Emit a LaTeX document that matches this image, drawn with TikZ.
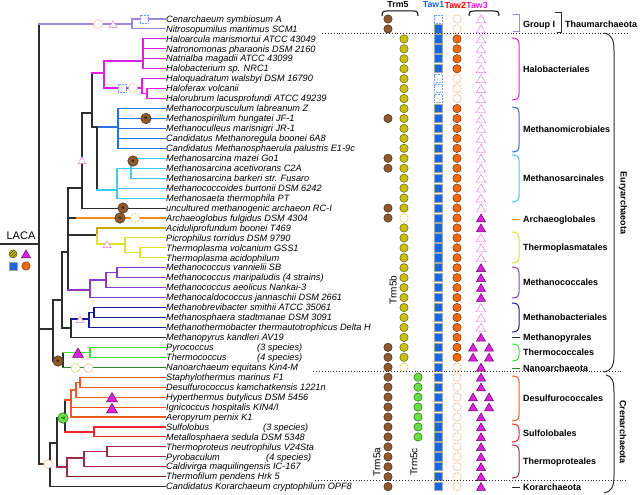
\documentclass[tikz,border=0pt]{standalone}
\usepackage{fontspec}
\setmainfont{Liberation Sans}
\usetikzlibrary{positioning,shapes.geometric,patterns}

\definecolor{back}{HTML}{2E2E2E}
\definecolor{thaum}{HTML}{9A88E0}
\definecolor{halo}{HTML}{E020E0}
\definecolor{mmic}{HTML}{2A70E0}
\definecolor{msar}{HTML}{40C8F0}
\definecolor{aglob}{HTML}{F08C20}
\definecolor{acid}{HTML}{C8AA00}
\definecolor{tplas}{HTML}{E0E030}
\definecolor{mcoc}{HTML}{8A3CC8}
\definecolor{mbac}{HTML}{1A1A90}
\definecolor{tcoc}{HTML}{40E030}
\definecolor{nano}{HTML}{2A8A2A}
\definecolor{desul}{HTML}{F05A1E}
\definecolor{sulf}{HTML}{F02828}
\definecolor{tprot}{HTML}{A02848}
\definecolor{tfil}{HTML}{7A2020}
\definecolor{trmA}{HTML}{8C5A2E}
\definecolor{trmB}{HTML}{C8C010}
\definecolor{trmC}{HTML}{66E040}
\definecolor{tawA}{HTML}{1A66E6}
\definecolor{tawB}{HTML}{F26A10}
\definecolor{tawC}{HTML}{E01EE0}

\begin{document}
\begin{tikzpicture}[x=1pt,y=-1pt,
  tree/.style={line width=1.1pt,line cap=rect},
  leaf/.style={anchor=base west,inner sep=0pt,font=\fontsize{9.2}{10}\selectfont\itshape},
  order/.style={anchor=base west,inner sep=0pt,font=\fontsize{9}{10}\selectfont\bfseries},
  head/.style={inner sep=0pt,font=\fontsize{8.8}{9}\selectfont\bfseries},
  rot/.style={inner sep=0pt,rotate=90,font=\fontsize{10}{11}\selectfont},
  lost/.style={dash pattern=on 0.8pt off 0.7pt,line width=0.7pt},
  cdot/.style={circle,inner sep=0pt,minimum size=8.4pt,line width=0.5pt},
  trma/.style={cdot,fill=trmA,draw=trmA!50!black},
  trmb/.style={cdot,fill=trmB,draw=trmB!50!black},
  trmbx/.style={cdot,lost,draw=trmB!85},
  trmc/.style={cdot,fill=trmC,draw=trmC!45!black},
  tawb/.style={cdot,fill=tawB,draw=tawB!45!black},
  tawbx/.style={cdot,lost,draw=tawB!60},
  sqbox/.style={rectangle,inner sep=0pt,minimum width=8pt,minimum height=8.2pt,line width=0.8pt},
  tawa/.style={sqbox,fill=tawA,draw=black!35},
  tawax/.style={sqbox,lost,draw=tawA!65},
  tri/.style={regular polygon,regular polygon sides=3,inner sep=0pt,minimum size=10.5pt,yshift=-1.2pt,line width=0.5pt},
  tawc/.style={tri,fill=tawC,draw=tawC!40!black},
  tawcx/.style={tri,lost,draw=tawC!70},
  hmark/.style={circle,inner sep=0pt,minimum size=10.5pt,fill=trmA,draw=trmA!50!black,line width=0.5pt,font=\fontsize{3.5}{4}\selectfont\bfseries},
  big/.style={tri,minimum size=12.5pt,fill=tawC,draw=tawC!40!black},
  dotline/.style={dotted,line width=0.9pt,black!85},
  brace/.style={line width=1pt}]
\useasboundingbox (0,0) rectangle (640,495);

% leaves
\foreach \t [count=\i] in {Cenarchaeum symbiosum A, Nitrosopumilus maritimus SCM1,
  Haloarcula marismortui ATCC 43049, Natronomonas pharaonis DSM 2160,
  Natrialba magadii ATCC 43099, Halobacterium sp. NRC1,
  Haloquadratum walsbyi DSM 16790, Haloferax volcanii,
  Halorubrum lacusprofundi ATCC 49239, Methanocorpusculum labreanum Z,
  Methanospirillum hungatei JF-1, Methanoculleus marisnigri JR-1,
  Candidatus Methanoregula boonei 6A8, Candidatus Methanosphaerula palustris E1-9c,
  Methanosarcina mazei Go1, Methanosarcina acetivorans C2A,
  Methanosarcina barkeri str. Fusaro, Methanococcoides burtonii DSM 6242,
  Methanosaeta thermophila PT, uncultured methanogenic archaeon RC-I,
  Archaeoglobus fulgidus DSM 4304, Aciduliprofundum boonei T469,
  Picrophilus torridus DSM 9790, Thermoplasma volcanium GSS1,
  Thermoplasma acidophilum, Methanococcus vannielii SB,
  Methanococcus maripaludis (4 strains), Methanococcus aeolicus Nankai-3,
  Methanocaldococcus jannaschii DSM 2661, Methanobrevibacter smithii ATCC 35061,
  Methanosphaera stadtmanae DSM 3091, Methanothermobacter thermautotrophicus Delta H,
  Methanopyrus kandleri AV19, Pyrococcus, Thermococcus,
  Nanoarchaeum equitans Kin4-M, Staphylothermus marinus F1,
  Desulfurococcus kamchatkensis 1221n, Hyperthermus butylicus DSM 5456,
  Ignicoccus hospitalis KIN4/I, Aeropyrum pernix K1, Sulfolobus,
  Metallosphaera sedula DSM 5348, Thermoproteus neutrophilus V24Sta,
  Pyrobaculum, Caldivirga maquilingensis IC-167, Thermofilum pendens Hrk 5,
  Candidatus Korarchaeum cryptophilum OPF8}{
  \coordinate (l\i) at (165,{19+(\i-1)*9.95});
  \node[leaf] (t\i) at (166,{22.2+(\i-1)*9.95}) {\t};
}
\node[leaf] (s34) at (257,350.5) {(3 species)};
\node[leaf] (s35) at (257,360.5) {(4 species)};
\node[leaf] (s42) at (263,430.2) {(3 species)};
\node[leaf] (s45) at (266,460) {(4 species)};

% inner nodes
\coordinate (nR) at (39,244);
\coordinate (nT) at (132,24);
\coordinate (nE0) at (53,329);
\coordinate (nE1) at (62,300);
\coordinate (nE2) at (68,252);
\coordinate (nX82) at (82,188);
\coordinate (nX92) at (92,113);
\coordinate (nX97) at (97,127);
\coordinate (nHalo) at (104,73);
\coordinate (nHa1) at (143,61);
\coordinate (nHa2) at (142,88);
\coordinate (nHa3) at (147,93.6);
\coordinate (nMM) at (118,127);
\coordinate (nMS) at (117,190);
\coordinate (nMS1) at (131,168.25);
\coordinate (aAg) at (77,218);
\coordinate (nTP) at (97,235);
\coordinate (nTP2) at (125,244);
\coordinate (nTP3) at (140,252.8);
\coordinate (nMC) at (90,290);
\coordinate (nMC1) at (106,280);
\coordinate (nMC2) at (117,272.7);
\coordinate (nMP) at (71,328);
\coordinate (nMB) at (89,319);
\coordinate (nMB1) at (94,312.5);
\coordinate (nTN) at (63,361);
\coordinate (nTC) at (90,352.3);
\coordinate (nCK) at (50,464);
\coordinate (nC0) at (57,443);
\coordinate (nC1) at (65,418);
\coordinate (nD) at (71,400);
\coordinate (nD1) at (76,390);
\coordinate (nD2) at (80,382.2);
\coordinate (nSu) at (94,432);
\coordinate (nTh) at (67,467);
\coordinate (nTh1) at (84,458);
\coordinate (nTh2) at (107,451.8);

% branches: parent/child/vertical colour/horizontal colour
\foreach \p/\c/\v/\h in {
  nR/nT/back/thaum, nR/nE0/back/back, nR/nCK/back/back,
  nT/l1/thaum/thaum, nT/l2/thaum/thaum,
  nE0/nE1/back/back, nE0/nTN/back/back,
  nE1/nE2/back/back, nE1/nMP/back/back,
  nE2/nX82/back/back, nE2/aAg/back/back, nE2/nTP/back/back, nE2/nMC/back/mcoc,
  nX82/nX92/back/back, nX82/l20/back/back,
  nX92/nHalo/back/halo, nX92/nX97/back/back,
  nX97/nMM/back/mmic, nX97/nMS/back/msar,
  nHalo/nHa1/halo/halo, nHalo/nHa2/halo/halo,
  nHa1/l3/halo/halo, nHa1/l4/halo/halo, nHa1/l5/halo/halo, nHa1/l6/halo/halo,
  nHa2/l7/halo/halo, nHa2/nHa3/halo/halo, nHa3/l8/halo/halo, nHa3/l9/halo/halo,
  nMM/l10/mmic/mmic, nMM/l11/mmic/mmic, nMM/l12/mmic/mmic, nMM/l13/mmic/mmic, nMM/l14/mmic/mmic,
  nMS/nMS1/msar/msar, nMS/l18/msar/msar, nMS/l19/msar/msar,
  nMS1/l15/msar/msar, nMS1/l16/msar/msar, nMS1/l17/msar/msar,
  aAg/l21/aglob/aglob,
  nTP/l22/acid/acid, nTP/nTP2/tplas/tplas, nTP2/l23/tplas/tplas, nTP2/nTP3/tplas/tplas,
  nTP3/l24/tplas/tplas, nTP3/l25/tplas/tplas,
  nMC/nMC1/mcoc/mcoc, nMC/l29/mcoc/mcoc, nMC1/nMC2/mcoc/mcoc, nMC1/l28/mcoc/mcoc,
  nMC2/l26/mcoc/mcoc, nMC2/l27/mcoc/mcoc,
  nMP/nMB/back/mbac, nMP/l33/back/back,
  nMB/nMB1/mbac/mbac, nMB/l32/mbac/mbac, nMB1/l30/mbac/mbac, nMB1/l31/mbac/mbac,
  nTN/nTC/back/tcoc, nTN/l36/back/nano, nTC/l34/tcoc/tcoc, nTC/l35/tcoc/tcoc,
  nCK/nC0/back/back, nCK/l48/back/back,
  nC0/nC1/back/back, nC0/nTh/back/tprot,
  nC1/nD/back/desul, nC1/nSu/back/sulf,
  nD/nD1/desul/desul, nD/l40/desul/desul, nD/l41/desul/desul,
  nD1/nD2/desul/desul, nD1/l39/desul/desul, nD2/l37/desul/desul, nD2/l38/desul/desul,
  nSu/l42/sulf/sulf, nSu/l43/sulf/sulf,
  nTh/nTh1/tprot/tprot, nTh/l47/tprot/tfil, nTh1/nTh2/tprot/tprot, nTh1/l46/tprot/tprot,
  nTh2/l44/tprot/tprot, nTh2/l45/tprot/tprot}{
  \draw[tree,\v] (\p) -- (\p |- \c);
  \draw[tree,\h] (\p |- \c) -- (\c);
}

% events on the tree
\foreach \x/\y [count=\k] in {146/118.5,133/161,123/208,120/218,58/361}
  \node[hmark] (h\k) at (\x,\y) {H};
\node[hmark,fill=trmC,draw=trmC!45!black] (g1) at (63,418) {+2};
\foreach \x/\y [count=\k] in {98/24,133/88,88.5/368,48/464}
  \node[cdot,minimum size=9pt,fill=white,lost,draw=tawB!60] (lo\k) at (\x,\y) {};
\foreach \x/\y [count=\k] in {135/218,75.5/368}
  \node[cdot,minimum size=9pt,fill=white,lost,draw=trmB!85] (lb\k) at (\x,\y) {};
\foreach \x/\y [count=\k] in {144/19,122/88}
  \node[sqbox,fill=white,lost,draw=tawA!65] (ls\k) at (\x,\y) {};
\foreach \x/\y [count=\k] in {113/24,82/160,107/244,80/319}
  \node[tri,minimum size=9pt,fill=white,lost,draw=tawC!70] (lt\k) at (\x,\y) {};
\foreach \x/\y [count=\k] in {78/353,112/397.5,112/408.5}
  \node[big] (bt\k) at (\x,\y) {};

% LACA and legend
\coordinate (lacaL) at (0,244);
\draw[tree,back] (lacaL) -- (nR);
\node[inner sep=0pt,font=\fontsize{11}{12}\selectfont] (laca) at (21,236) {LACA};
\node[cdot,minimum size=8pt,draw=trmB!50!black,preaction={fill=trmB},pattern=north east lines,pattern color=trmB!40!black] (lg1) at (13,254) {};
\node[tawc] (lg2) at (26,254) {};
\node[tawa] (lg3) at (13,266) {};
\node[tawb] (lg4) at (26,266) {};

% columns
\foreach \i in {1,2,11,15,16,20,21,34,35,...,48}
  \node[trma] (ta\i) at (388,{19+(\i-1)*9.95}) {};
\foreach \i in {3,4,...,20,22,23,...,35}
  \node[trmb] (tb\i) at (404,{19+(\i-1)*9.95}) {};
\foreach \i in {21,36}
  \node[trmbx] (tb\i) at (404,{19+(\i-1)*9.95}) {};
\foreach \i in {37,38,...,43}
  \node[trmc] (tc\i) at (418,{19+(\i-1)*9.95}) {};
\foreach \i in {2,3,...,6,10,11,...,48}
  \node[tawa] (wa\i) at (438,{19+(\i-1)*9.95}) {};
\foreach \i in {1,7,8,9}
  \node[tawax] (wa\i) at (438,{19+(\i-1)*9.95}) {};
\foreach \i in {3,4,...,6,10,11,...,35}
  \node[tawb] (wb\i) at (457,{19+(\i-1)*9.95}) {};
\foreach \i in {1,2,7,8,9,36,37,...,48}
  \node[tawbx] (wb\i) at (457,{19+(\i-1)*9.95}) {};
\foreach \i in {21,22,26,27,28,29,33,36,37,38,41,42,...,48}
  \node[tawc] (wc\i) at (481,{19+(\i-1)*9.95}) {};
\foreach \i in {34,35,39,40}{
  \node[tawc] (wc\i) at (473,{19+(\i-1)*9.95}) {};
  \node[tawc] (wd\i) at (489,{19+(\i-1)*9.95}) {};
}
\foreach \i in {1,2,...,20,23,24,25,30,31,32}
  \node[tawcx] (wc\i) at (481,{19+(\i-1)*9.95}) {};

\node[rot] (trm5b) at (393,290) {Trm5b};
\node[rot] (trm5a) at (377,462) {Trm5a};
\node[rot] (trm5c) at (414,462) {Trm5c};

% header
\node[head] (trm5) at (398,5) {Trm5};
\node[head,text=tawA] (taw1) at (433.5,5) {Taw1};
\node[head,text=red,right=0pt of taw1] (taw2) {Taw2};
\node[head,text=tawC,right=0pt of taw2] (taw3) {Taw3};
\draw[brace] (382,16) .. controls (382,12) and (383,11) .. (387,11) -- (413,11) .. controls (417,11) and (418,12) .. (418,16);
\draw[brace] (469,16) .. controls (469,12) and (470,11) .. (474,11) -- (494,11) .. controls (498,11) and (499,12) .. (499,16);

% separators
\draw[dotline] (322,33) -- (628,33);
\draw[dotline] (313,371) -- (622,371);
\draw[dotline] (315,480) -- (627,480);

% orders
\foreach \a/\b/\c/\t [count=\k] in {38/100/halo/Halobacteriales, 107/152/mmic/Methanomicrobiales,
  155/202/msar/Methanosarcinales, 232/263/tplas/Thermoplasmatales,
  267/298/mcoc/Methanococcales, 303/332/mbac/Methanobacteriales,
  344/361/tcoc/Thermococcales, 376/421/desul/Desulfurococcales,
  424/442/sulf/Sulfolobales, 445/478/tprot/Thermoproteales}{
  \draw[brace,\c] (512,\a) .. controls (517,\a) and (519,{\a+2}) .. (519,{\a+6}) -- (519,{\b-6}) .. controls (519,{\b-2}) and (517,\b) .. (512,\b);
  \node[order] (o\k) at (523,{(\a+\b)/2+3.2}) {\t};
}
\foreach \y/\c/\t [count=\k] in {219/aglob/Archaeoglobales, 337/back/Methanopyrales,
  368/nano/Nanoarchaeota, 487/back/Korarchaeota}{
  \draw[brace,\c] (512,\y) -- (520,\y);
  \node[order] (d\k) at (523,{\y+3.2}) {\t};
}
\draw[brace,thaum] (513,15) -- (519,15) -- (519,32) -- (513,32);
\node[order] (grp) at (523,27.2) {Group I};
\draw[brace,back] (555,13) -- (561,13) -- (561,33) -- (557,33);
\node[order] (thaumL) at (565,27.2) {Thaumarchaeota};

% phyla
\draw[brace,back] (604,33) .. controls (611,34) and (614,39) .. (614,50) -- (614,356) .. controls (614,366) and (611,371) .. (604,372);
\node[inner sep=0pt,rotate=-90,font=\fontsize{9}{10}\selectfont\bfseries] (eury) at (623,203) {Euryarchaeota};
\draw[brace,back] (606,375) .. controls (612,376) and (614,381) .. (614,392) -- (614,476) .. controls (614,487) and (611,492) .. (604,493);
\node[inner sep=0pt,rotate=-90,font=\fontsize{9}{10}\selectfont\bfseries] (cren) at (623,432) {Crenarchaeota};
\end{tikzpicture}
\end{document}
